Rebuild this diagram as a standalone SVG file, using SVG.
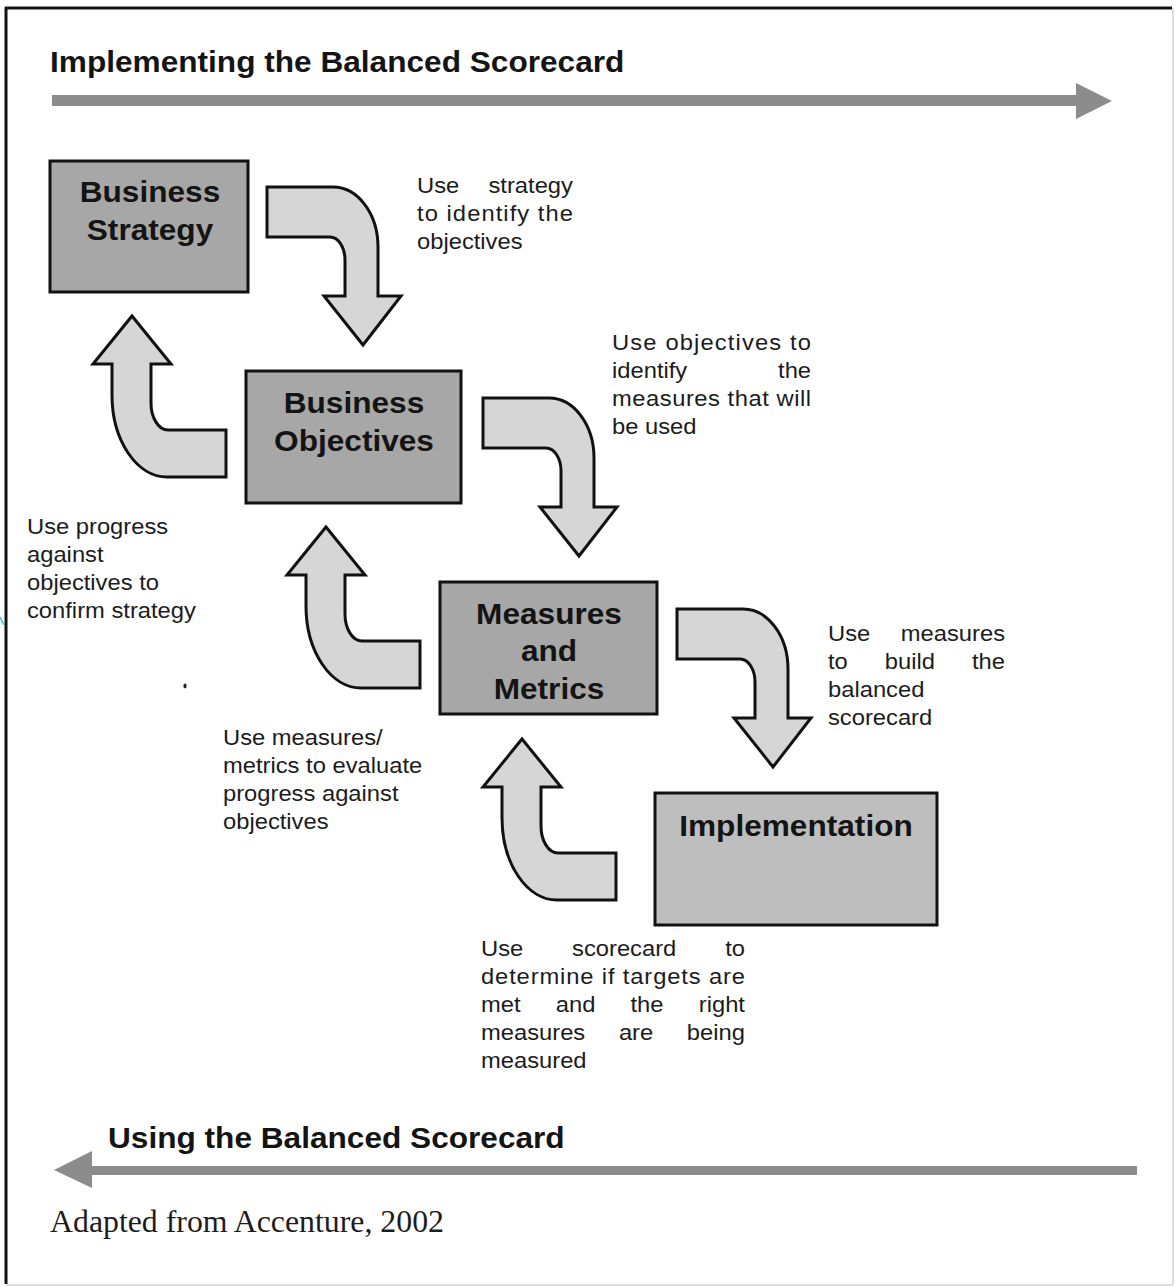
<svg xmlns="http://www.w3.org/2000/svg" width="1176" height="1287" viewBox="0 0 1176 1287">
  <style>
    .box { fill: #a7a7a7; stroke: #111; stroke-width: 3; }
    .box-light { fill: #bebebe; stroke: #111; stroke-width: 3; }
    .bend { fill: #d6d6d6; stroke: #111; stroke-width: 3; stroke-linejoin: miter; }
    .band { fill: #8c8c8c; }
    .label { font-family: "Liberation Sans", Arial, sans-serif; font-weight: bold; font-size: 29px; fill: #141414; text-anchor: middle; }
    .title { font-family: "Liberation Sans", Arial, sans-serif; font-weight: bold; font-size: 29px; fill: #141414; }
    .note { font-family: "Liberation Sans", Arial, sans-serif; font-size: 22px; fill: #1c1c1c; }
    .end { text-anchor: end; }
    .source { font-family: "Liberation Serif", "Times New Roman", serif; font-size: 31px; fill: #1c1c1c; }
  </style>
  <defs>
    <!-- bent arrow turning downward, tip at origin -->
    <path id="bend-down" d="M-96,-158 H-30 A45,60 0 0 1 15,-98 V-49 H38 L0,0 L-39,-49 H-18 V-85 A15,23 0 0 0 -33,-108 H-96 Z"/>
    <!-- bent arrow turning upward, tip at origin -->
    <path id="bend-up" d="M0,0 L39,48 H19 V87 A17,27 0 0 0 36,114 H94 V161 H35 A55,82 0 0 1 -20,79 V48 H-39 Z"/>
  </defs>

  <rect x="0" y="0" width="1176" height="1287" fill="#fff"/>

  <!-- page frame -->
  <g id="frame">
    <line x1="5" y1="8" x2="1172" y2="8" stroke="#111" stroke-width="3"/>
    <line x1="6" y1="7" x2="6" y2="1284" stroke="#111" stroke-width="3"/>
    <line x1="1173" y1="8" x2="1173" y2="1285" stroke="#d4d4d4" stroke-width="1.5"/>
    <line x1="6" y1="1285" x2="1173" y2="1285" stroke="#d4d4d4" stroke-width="1.5"/>
  </g>

  <!-- phase headings with their direction bands -->
  <g id="heading-implementing">
    <g transform="translate(50,0) scale(1.09,1)">
      <text class="title" x="0" y="72">Implementing the Balanced Scorecard</text>
    </g>
    <path class="band" d="M52,95 H1076 V83 L1112,101 L1076,119 V106 H52 Z"/>
  </g>

  <g id="heading-using">
    <g transform="translate(108,0) scale(1.09,1)">
      <text class="title" x="0" y="1148">Using the Balanced Scorecard</text>
    </g>
    <path class="band" d="M1137,1166 H92 V1151 L54,1170 L92,1188 V1175 H1137 Z"/>
  </g>

  <!-- nodes -->
  <g id="business-strategy">
    <rect class="box" x="50" y="161" width="198" height="131"/>
    <g transform="translate(150,0) scale(1.09,1)">
      <text class="label" x="0" y="202">Business</text>
      <text class="label" x="0" y="240">Strategy</text>
    </g>
  </g>

  <g id="business-objectives">
    <rect class="box" x="246" y="371" width="215" height="132"/>
    <g transform="translate(354,0) scale(1.09,1)">
      <text class="label" x="0" y="413">Business</text>
      <text class="label" x="0" y="451">Objectives</text>
    </g>
  </g>

  <g id="measures-and-metrics">
    <rect class="box" x="440" y="582" width="217" height="132"/>
    <g transform="translate(549,0) scale(1.09,1)">
      <text class="label" x="0" y="624">Measures</text>
      <text class="label" x="0" y="661">and</text>
      <text class="label" x="0" y="699">Metrics</text>
    </g>
  </g>

  <g id="implementation">
    <rect class="box-light" x="655" y="793" width="282" height="132"/>
    <g transform="translate(796,0) scale(1.09,1)">
      <text class="label" x="0" y="836">Implementation</text>
    </g>
  </g>

  <!-- connectors: forward (down) and feedback (up) bent arrows -->
  <g id="connectors">
    <use href="#bend-down" class="bend" transform="translate(363,345)"/>
    <use href="#bend-down" class="bend" transform="translate(579,556)"/>
    <use href="#bend-down" class="bend" transform="translate(773,767)"/>
    <use href="#bend-up" class="bend" transform="translate(132,316)"/>
    <use href="#bend-up" class="bend" transform="translate(326,527)"/>
    <use href="#bend-up" class="bend" transform="translate(522,739)"/>
  </g>

  <!-- connector notes -->
  <g id="notes">
    <g transform="translate(417,0) scale(1.08,1)">
      <text class="note" x="0" y="193">Use</text>
      <text class="note end" x="144.4" y="193">strategy</text>
      <text class="note" x="0" y="221" textLength="144.4" lengthAdjust="spacing">to identify the</text>
      <text class="note" x="0" y="249">objectives</text>
    </g>

    <g transform="translate(612,0) scale(1.08,1)">
      <text class="note" x="0" y="350" textLength="184.3" lengthAdjust="spacing">Use objectives to</text>
      <text class="note" x="0" y="378">identify</text>
      <text class="note end" x="184.3" y="378">the</text>
      <text class="note" x="0" y="406" textLength="184.3" lengthAdjust="spacing">measures that will</text>
      <text class="note" x="0" y="434">be used</text>
    </g>

    <g transform="translate(27,0) scale(1.08,1)">
      <text class="note" x="0" y="534">Use progress</text>
      <text class="note" x="0" y="562">against</text>
      <text class="note" x="0" y="590">objectives to</text>
      <text class="note" x="0" y="618">confirm strategy</text>
    </g>

    <g transform="translate(828,0) scale(1.08,1)">
      <text class="note" x="0" y="641">Use</text>
      <text class="note end" x="163.9" y="641">measures</text>
      <text class="note" x="0" y="669">to</text>
      <text class="note" x="52.6" y="669">build</text>
      <text class="note end" x="163.9" y="669">the</text>
      <text class="note" x="0" y="697">balanced</text>
      <text class="note" x="0" y="725">scorecard</text>
    </g>

    <g transform="translate(223,0) scale(1.08,1)">
      <text class="note" x="0" y="745">Use measures/</text>
      <text class="note" x="0" y="773">metrics to evaluate</text>
      <text class="note" x="0" y="801">progress against</text>
      <text class="note" x="0" y="829">objectives</text>
    </g>

    <g transform="translate(481,0) scale(1.08,1)">
      <text class="note" x="0" y="956">Use</text>
      <text class="note" x="84.3" y="956">scorecard</text>
      <text class="note end" x="244.4" y="956">to</text>
      <text class="note" x="0" y="984" textLength="244.4" lengthAdjust="spacing">determine if targets are</text>
      <text class="note" x="0" y="1012">met</text>
      <text class="note" x="69.2" y="1012">and</text>
      <text class="note" x="138.4" y="1012">the</text>
      <text class="note end" x="244.4" y="1012">right</text>
      <text class="note" x="0" y="1040">measures</text>
      <text class="note" x="127.7" y="1040">are</text>
      <text class="note end" x="244.4" y="1040">being</text>
      <text class="note" x="0" y="1068">measured</text>
    </g>
  </g>

  <!-- source line -->
  <text class="source" x="50" y="1232" textLength="394" lengthAdjust="spacingAndGlyphs">Adapted from Accenture, 2002</text>

  <!-- small marks on the page -->
  <ellipse cx="185" cy="686" rx="1.6" ry="2.4" fill="#222"/>
  <line x1="0" y1="617" x2="4" y2="625" stroke="#33c8d0" stroke-width="1.5"/>
</svg>
